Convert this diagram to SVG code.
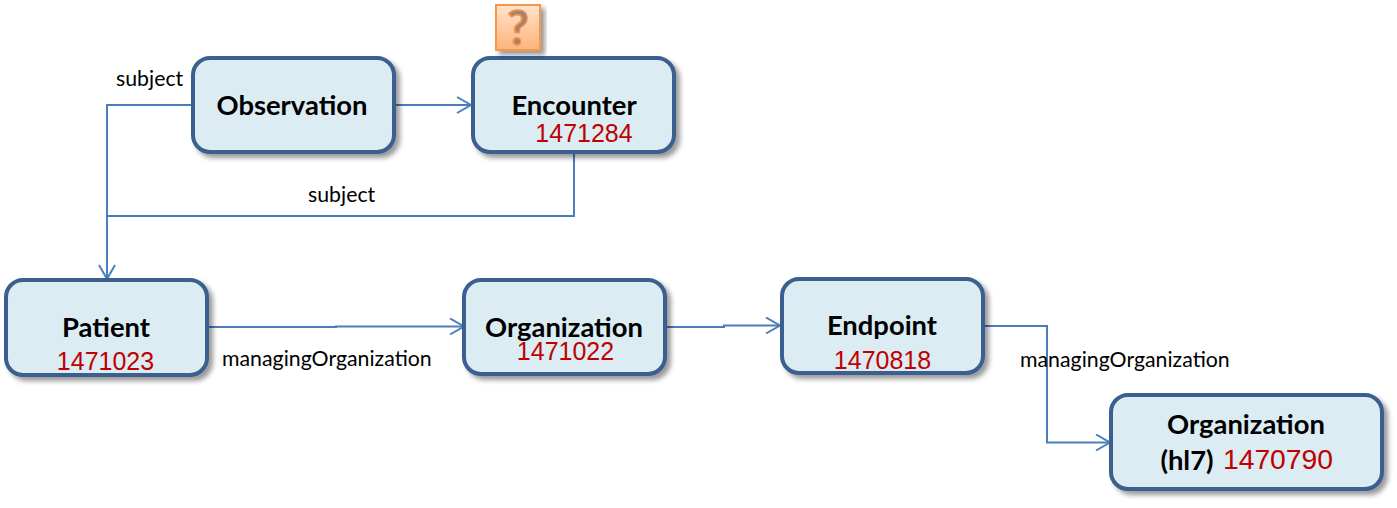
<svg xmlns="http://www.w3.org/2000/svg" width="1397" height="508" viewBox="0 0 1397 508">
<style>
.box{fill:#dbecf3;stroke:#3a5f8f;stroke-width:4}
.t{font-family:"Lato","Open Sans",sans-serif;font-weight:700;font-size:27.400px;fill:#000;text-anchor:middle}
.n{font-family:"Liberation Sans",Arial,sans-serif;font-size:25px;fill:#c00000;text-anchor:middle}
.l{font-family:"Lato","Open Sans",sans-serif;font-size:21.300px;fill:#000}
.c{fill:none;stroke:#4a7ebb;stroke-width:2}
</style>
<defs>
<filter id="s" x="-10%" y="-15%" width="125%" height="135%"><feDropShadow dx="4" dy="4" stdDeviation="2.5" flood-color="#000" flood-opacity=".4"/></filter>
<linearGradient id="q" x1="0" y1="0" x2="0" y2="1"><stop offset="0" stop-color="#ffe4cc"/><stop offset="1" stop-color="#ffb27a"/></linearGradient>
<marker id="a" markerUnits="userSpaceOnUse" markerWidth="18" markerHeight="20" refX="15" refY="9" orient="auto"><path d="M1 1L15 9L1 17" fill="none" stroke="#4a7ebb" stroke-width="2"/></marker>
</defs>
<g id="connectors">
<path class="c" d="M193 105H107V279" marker-end="url(#a)"/>
<path class="c" d="M395 105H471" marker-end="url(#a)"/>
<path class="c" d="M574 153V216H107"/>
<path class="c" d="M207 327H336V326.500H464" marker-end="url(#a)"/>
<path class="c" d="M666 327H724V325.500H780" marker-end="url(#a)"/>
<path class="c" d="M984 326H1047V442.500H1110" marker-end="url(#a)"/>
</g>
<g id="labels">
<text class="l" x="116" y="85.500">subject</text>
<text class="l" x="308" y="201.500">subject</text>
<text class="l" x="222" y="365.500">managingOrganization</text>
<text class="l" x="1020" y="366.500">managingOrganization</text>
</g>
<g id="observation"><rect class="box" x="193" y="58" width="201" height="94" rx="17" filter="url(#s)"/><text class="t" x="292" y="115">Observation</text></g>
<g id="encounter"><rect class="box" x="473" y="58" width="201" height="94" rx="17" filter="url(#s)"/><text class="t" x="574" y="115">Encounter</text><text class="n" x="584" y="142">1471284</text></g>
<g id="question"><rect x="496" y="5" width="44" height="45" fill="url(#q)" stroke="#f79646" stroke-width="2" filter="url(#s)"/><text x="518" y="45" font-family="Lato,sans-serif" font-weight="700" font-size="47" fill="#a08470" stroke="#f0914a" stroke-width="1.500" text-anchor="middle">?</text></g>
<g id="patient"><rect class="box" x="6" y="280" width="201" height="95" rx="17" filter="url(#s)"/><text class="t" x="106" y="337">Patient</text><text class="n" x="105.500" y="370">1471023</text></g>
<g id="organization1"><rect class="box" x="464" y="280" width="201" height="94" rx="17" filter="url(#s)"/><text class="t" x="564" y="337">Organization</text><text class="n" x="565.500" y="360">1471022</text></g>
<g id="endpoint"><rect class="box" x="782" y="279" width="201" height="94" rx="17" filter="url(#s)"/><text class="t" x="882" y="335">Endpoint</text><text class="n" x="882.500" y="369">1470818</text></g>
<g id="organization2"><rect class="box" x="1111" y="395" width="271" height="94" rx="17" filter="url(#s)"/><text class="t" x="1246" y="434">Organization</text><text class="t" x="1187" y="470">(hl7)</text><text class="n" x="1278" y="469" style="font-size:28.300px">1470790</text></g>
</svg>
